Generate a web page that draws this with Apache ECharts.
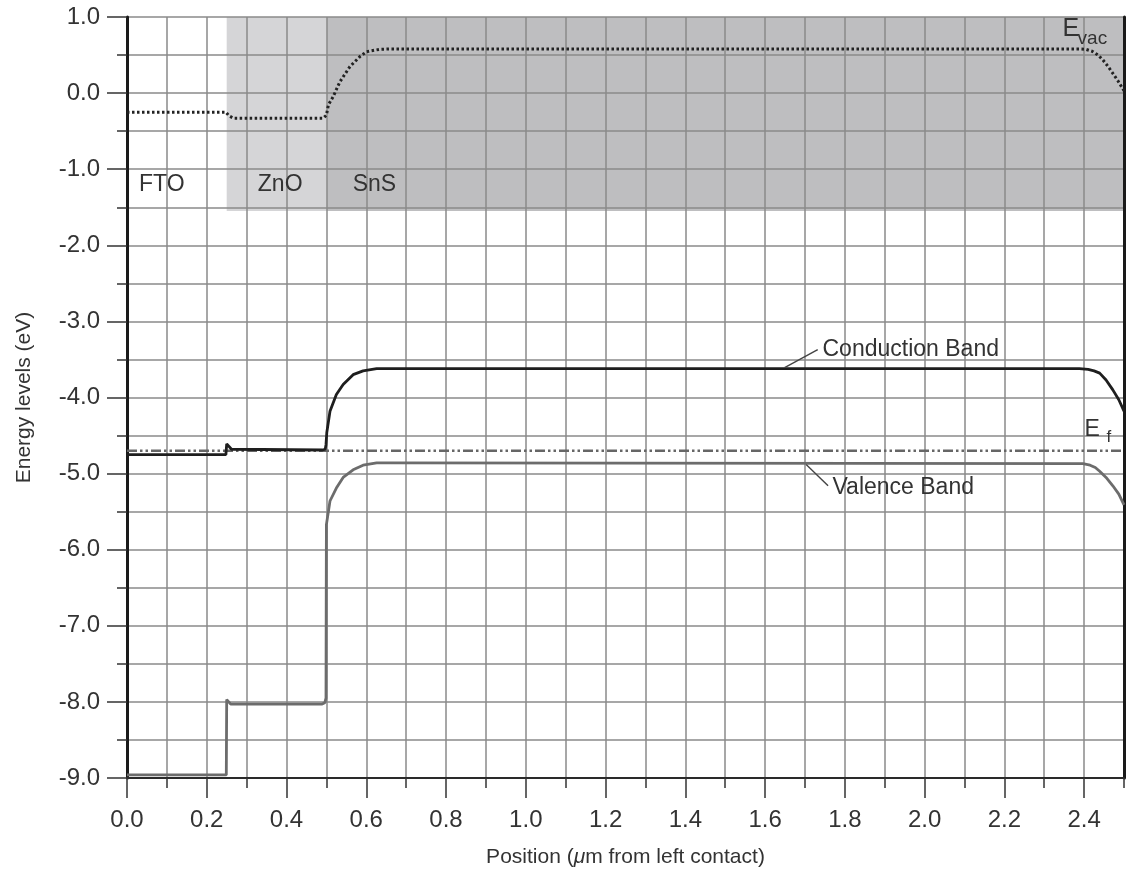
<!DOCTYPE html>
<html>
<head>
<meta charset="utf-8">
<script src="https://cdn.jsdelivr.net/npm/echarts@6/dist/echarts.min.js"></script>
<style>
  html, body { margin: 0; padding: 0; background: #fff; }
  #chart { width: 1138px; height: 873px; }
</style>
</head>
<body>
<div id="chart"></div>
<script>
// tick labels
var xTicks = [0, 0.2, 0.4, 0.6, 0.8, 1.0, 1.2, 1.4, 1.6, 1.8, 2.0, 2.2, 2.4];
var yTicks = [-9, -8, -7, -6, -5, -4, -3, -2, -1, 0, 1];

// layers (shaded boxes)
var layerNames = ['FTO', 'ZnO', 'SnS'];
var layerStart = [0, 0.25, 0.5];
var layerEnd = [0.25, 0.5, 2.5];
var layerTop = 1.0;
var layerBottom = -1.55;

// vacuum level
var evacX = [0, 0.248, 0.256, 0.267, 0.492, 0.5, 0.505, 0.517, 0.534, 0.559, 0.584, 0.601, 0.634, 0.66, 2.39, 2.405, 2.42, 2.435, 2.447, 2.46, 2.472, 2.485, 2.5];
var evacY = [-0.25, -0.25, -0.30, -0.33, -0.33, -0.29, -0.155, -0.046, 0.15, 0.348, 0.48, 0.545, 0.576, 0.58, 0.58, 0.575, 0.55, 0.5, 0.436, 0.35, 0.26, 0.16, 0.03];

// conduction band
var cbX = [0, 0.248, 0.25, 0.253, 0.262, 0.49, 0.497, 0.499, 0.501, 0.509, 0.525, 0.542, 0.567, 0.592, 0.626, 0.66, 2.388, 2.41, 2.425, 2.439, 2.455, 2.472, 2.487, 2.5];
var cbY = [-4.75, -4.75, -4.61, -4.63, -4.68, -4.69, -4.68, -4.62, -4.46, -4.18, -3.96, -3.83, -3.70, -3.65, -3.62, -3.62, -3.62, -3.63, -3.65, -3.68, -3.77, -3.90, -4.03, -4.18];

// valence band
var vbX = [0, 0.249, 0.25, 0.252, 0.26, 0.488, 0.496, 0.499, 0.5, 0.509, 0.525, 0.542, 0.567, 0.592, 0.626, 0.66, 2.397, 2.415, 2.428, 2.439, 2.455, 2.472, 2.487, 2.5];
var vbY = [-8.96, -8.96, -7.97, -7.98, -8.03, -8.03, -8.01, -7.95, -5.67, -5.36, -5.19, -5.05, -4.95, -4.89, -4.86, -4.86, -4.87, -4.89, -4.92, -4.97, -5.05, -5.16, -5.27, -5.41];

// Fermi level
var efX = [0, 2.5];
var efY = [-4.70, -4.70];

// annotations (data coordinates)
var annoText = ['FTO', 'ZnO', 'SnS', 'Conduction Band', 'Valence Band'];
var annoX = [0.03, 0.328, 0.566, 1.744, 1.769];
var annoY = [-1.205, -1.205, -1.205, -3.37, -5.18];
var leaderX = [[1.649, 1.732], [1.703, 1.758]];
var leaderY = [[-3.606, -3.37], [-4.88, -5.16]];

var pairs = function (xs, ys) { return xs.map(function (x, i) { return [x, ys[i]]; }); };
var minorX = [], minorY = [];
for (var i = 0; i <= 25; i++) minorX.push(+(i * 0.1).toFixed(1));
for (var j = -18; j <= 2; j++) minorY.push(j * 0.5);

var FONT = 'Liberation Sans';
var TXT = '#333';
var GRIDC = '#8a8a8a';

var chart = echarts.init(document.getElementById('chart'));

var option = {
  animation: false,
  backgroundColor: '#fff',
  textStyle: { fontFamily: FONT },
  grid: { left: 127, right: 14, top: 17, bottom: 94 },
  xAxis: [{
    type: 'value', min: 0, max: 2.5, interval: 0.1, position: 'bottom',
    axisLine: { onZero: false, lineStyle: { color: '#2a2a2a', width: 2 } },
    axisTick: { customValues: minorX, length: 10, lineStyle: { color: '#333', width: 1.5 } },
    axisLabel: { customValues: xTicks, margin: 30, fontSize: 24, color: TXT, fontFamily: FONT,
      formatter: function (v) { return v.toFixed(1); } },
    splitLine: { show: true, lineStyle: { color: GRIDC, width: 1.5 } },
    name: 'Position ({i|μ}m from left contact)', nameLocation: 'middle', nameGap: 69,
    nameTextStyle: { fontSize: 21, color: TXT, fontFamily: FONT,
      rich: { i: { fontSize: 21, fontStyle: 'italic', color: TXT, fontFamily: FONT } } }
  }, {
    type: 'value', min: 0, max: 2.5, position: 'bottom',
    axisLine: { show: false, onZero: false },
    axisTick: { customValues: xTicks, length: 20, lineStyle: { color: '#333', width: 1.5 } },
    axisLabel: { show: false },
    splitLine: { show: false }
  }],
  yAxis: [{
    type: 'value', min: -9, max: 1, interval: 0.5, position: 'left',
    axisLine: { show: true, onZero: false, lineStyle: { color: '#1a1a1a', width: 3 } },
    axisTick: { show: true, customValues: minorY, length: 10, lineStyle: { color: '#333', width: 1.5 } },
    axisLabel: { customValues: yTicks, margin: 27, fontSize: 24, color: TXT, fontFamily: FONT,
      formatter: function (v) { return v.toFixed(1); } },
    splitLine: { show: true, lineStyle: { color: GRIDC, width: 1.5 } },
    name: 'Energy levels (eV)', nameLocation: 'middle', nameGap: 92,
    nameTextStyle: { fontSize: 21, color: TXT, fontFamily: FONT }
  }, {
    type: 'value', min: -9, max: 1, position: 'left',
    axisLine: { show: false, onZero: false },
    axisTick: { show: true, customValues: yTicks, length: 20, lineStyle: { color: '#333', width: 1.5 } },
    axisLabel: { show: false },
    splitLine: { show: false }
  }, {
    type: 'value', min: -9, max: 1, position: 'right',
    axisLine: { show: true, onZero: false, lineStyle: { color: '#1a1a1a', width: 3 } },
    axisTick: { show: false }, axisLabel: { show: false }, splitLine: { show: false }
  }],
  series: [{
    type: 'custom', z: -1, silent: true,
    data: layerNames.map(function (n, k) { return [layerStart[k], layerEnd[k], layerTop, layerBottom, k]; }),
    renderItem: function (params, api) {
      var k = api.value(4);
      if (k === 0) return null;
      var p0 = api.coord([api.value(0), api.value(2)]);
      var p1 = api.coord([api.value(1), api.value(3)]);
      return { type: 'rect', shape: { x: p0[0], y: p0[1], width: p1[0] - p0[0], height: p1[1] - p0[1] },
        style: { fill: k === 1 ? '#d5d5d7' : '#bebec0' } };
    }
  }, {
    type: 'line', data: pairs(efX, efY), showSymbol: false, z: 3,
    lineStyle: { color: '#666', width: 2.6, type: [10, 3, 2.5, 3, 2.5, 3] }
  }, {
    type: 'line', data: pairs(vbX, vbY), showSymbol: false, z: 4,
    lineStyle: { color: '#6c6c6c', width: 2.8 }
  }, {
    type: 'line', data: pairs(cbX, cbY), showSymbol: false, z: 5,
    lineStyle: { color: '#1e1e1e', width: 2.8 }
  }, {
    type: 'line', data: pairs(evacX, evacY), showSymbol: false, z: 5,
    lineStyle: { color: '#222', width: 3, type: [2.5, 2.5] }
  }]
};
chart.setOption(option);

// text annotations placed from data coordinates
var px = function (x, y) { return chart.convertToPixel({ gridIndex: 0 }, [x, y]); };
var graphics = [];
annoText.forEach(function (t, k) {
  var p = px(annoX[k], annoY[k]);
  graphics.push({ type: 'text', x: p[0], y: p[1], z: 10,
    style: { text: t, fill: TXT, font: '23px "' + FONT + '"', textVerticalAlign: 'middle' } });
});
leaderX.forEach(function (lx, k) {
  var a = px(lx[0], leaderY[k][0]), b = px(lx[1], leaderY[k][1]);
  graphics.push({ type: 'line', z: 10, shape: { x1: a[0], y1: a[1], x2: b[0], y2: b[1] },
    style: { stroke: '#444', lineWidth: 1.4 } });
});
var ev = px(2.346, 0.843);
graphics.push({ type: 'text', x: ev[0], y: ev[1], z: 10,
  style: { text: 'E', fill: TXT, font: '25px "' + FONT + '"', textVerticalAlign: 'middle' } });
graphics.push({ type: 'text', x: ev[0] + 15, y: ev[1] + 10, z: 10,
  style: { text: 'vac', fill: TXT, font: '19px "' + FONT + '"', textVerticalAlign: 'middle' } });
var ef = px(2.401, -4.42);
graphics.push({ type: 'text', x: ef[0], y: ef[1], z: 10,
  style: { text: 'E', fill: TXT, font: '23px "' + FONT + '"', textVerticalAlign: 'middle' } });
graphics.push({ type: 'text', x: ef[0] + 22, y: ef[1] + 8, z: 10,
  style: { text: 'f', fill: TXT, font: '17px "' + FONT + '"', textVerticalAlign: 'middle' } });
chart.setOption({ graphic: graphics });
</script>
</body>
</html>
